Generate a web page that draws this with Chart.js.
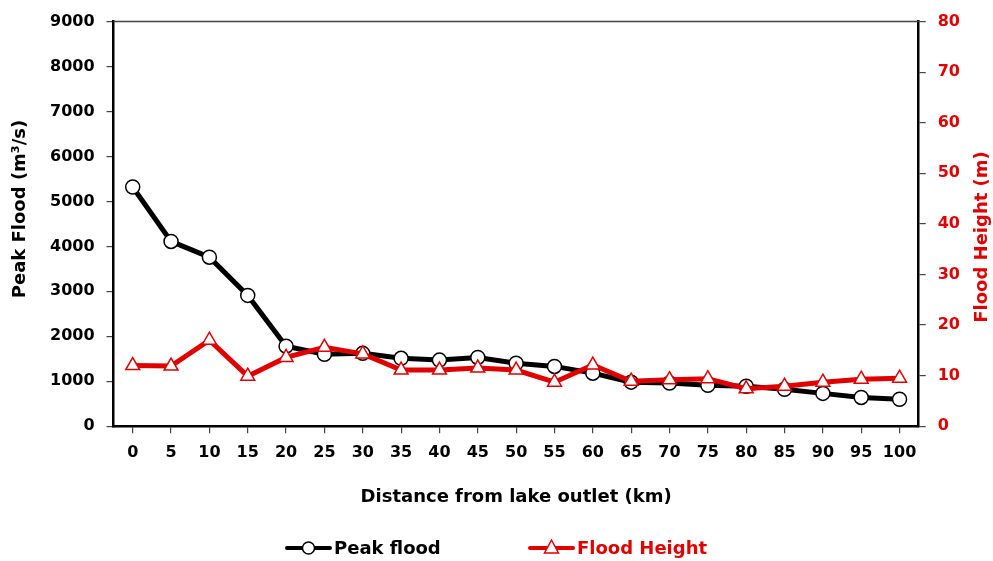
<!DOCTYPE html>
<html>
<head>
<meta charset="utf-8">
<script src="https://cdn.jsdelivr.net/npm/chart.js@4"></script>
<style>
  html, body { margin: 0; padding: 0; background: #fff; }
  #wrap { width: 993px; height: 561px; }
</style>
</head>
<body>
<div id="wrap"><canvas id="floodChart"></canvas></div>
<script>
const distances = ['0', '5', '10', '15', '20', '25', '30', '35', '40', '45', '50',
  '55', '60', '65', '70', '75', '80', '85', '90', '95', '100'];
const peakFlood = [5320, 4110, 3760, 2910, 1780, 1600, 1620, 1510, 1470, 1530, 1400,
  1330, 1180, 980, 960, 910, 890, 820, 730, 640, 600];
const floodHeight = [12.0, 11.9, 17.0, 9.9, 13.6, 15.6, 14.3, 11.1, 11.1, 11.5, 11.1,
  8.7, 12.1, 8.9, 9.2, 9.4, 7.4, 7.9, 8.7, 9.3, 9.5];

const red = '#e00000';
const fontFam = '"DejaVu Sans", sans-serif';

// titulos de ejes verticales, leyenda y borde superior dibujados a mano
const extras = {
  id: 'extras',
  afterDraw(chart) {
    const ctx = chart.ctx;
    const area = chart.chartArea;
    ctx.save();

    // borde superior del area del grafico
    ctx.strokeStyle = '#444';
    ctx.lineWidth = 1.5;
    ctx.beginPath();
    ctx.moveTo(area.left, area.top);
    ctx.lineTo(area.right, area.top);
    ctx.stroke();

    // titulos verticales (ambos leidos de abajo hacia arriba)
    ctx.font = 'bold 18px ' + fontFam;
    ctx.textAlign = 'center';
    ctx.textBaseline = 'middle';
    [[20, 209, '#000', 'Peak Flood (m³/s)'], [982, 237, red, 'Flood Height (m)']].forEach(t => {
      ctx.save();
      ctx.translate(t[0], t[1]);
      ctx.rotate(-Math.PI / 2);
      ctx.fillStyle = t[2];
      ctx.fillText(t[3], 0, 0);
      ctx.restore();
    });

    // leyenda: linea + marcador + texto
    const y = 548;
    const items = [
      { x: 287, color: '#000', text: 'Peak flood', marker: 'circle' },
      { x: 530, color: red, text: 'Flood Height', marker: 'triangle' }
    ];
    ctx.textAlign = 'left';
    items.forEach(it => {
      ctx.strokeStyle = it.color;
      ctx.lineWidth = 4;
      ctx.lineCap = 'round';
      ctx.beginPath();
      ctx.moveTo(it.x, y);
      ctx.lineTo(it.x + 43, y);
      ctx.stroke();
      const cx = it.x + 21.5;
      ctx.fillStyle = '#fff';
      ctx.lineWidth = 1.5;
      ctx.beginPath();
      if (it.marker === 'circle') {
        ctx.arc(cx, y, 6, 0, Math.PI * 2);
      } else {
        ctx.moveTo(cx, y - 8);
        ctx.lineTo(cx + 7, y + 5);
        ctx.lineTo(cx - 7, y + 5);
        ctx.closePath();
      }
      ctx.fill();
      ctx.stroke();
      ctx.fillStyle = it.color;
      ctx.font = 'bold 18px ' + fontFam;
      ctx.fillText(it.text, it.x + 47, y + 1);
    });
    ctx.restore();
  }
};

const ctx = document.getElementById('floodChart').getContext('2d');
new Chart(ctx, {
  type: 'line',
  data: {
    labels: distances,
    datasets: [{
      label: 'Peak flood',
      data: peakFlood,
      yAxisID: 'y',
      borderColor: '#000',
      borderWidth: 5,
      pointStyle: 'circle',
      pointRadius: 7,
      pointBackgroundColor: '#fff',
      pointBorderColor: '#000',
      pointBorderWidth: 1.5,
      order: 1
    }, {
      label: 'Flood Height',
      data: floodHeight,
      yAxisID: 'y1',
      borderColor: red,
      borderWidth: 5,
      pointStyle: 'triangle',
      pointRadius: 8,
      pointBackgroundColor: '#fff',
      pointBorderColor: red,
      pointBorderWidth: 1.5,
      order: 0
    }]
  },
  options: {
    responsive: true,
    maintainAspectRatio: false,
    animation: false,
    layout: { padding: { left: 38, right: 21, top: 3, bottom: 49 } },
    plugins: {
      legend: { display: false },
      tooltip: { enabled: false }
    },
    scales: {
      x: {
        offset: true,
        grid: { offset: false, drawOnChartArea: false, color: '#444', tickLength: 7, lineWidth: 1.2 },
        border: { color: '#000', width: 2.5 },
        ticks: { color: '#000', font: { family: fontFam, size: 16, weight: 'bold' }, maxRotation: 0, autoSkip: false, padding: 10 },
        title: { display: true, text: 'Distance from lake outlet (km)', color: '#000', font: { family: fontFam, size: 18, weight: 'bold' }, padding: { top: 14 } }
      },
      y: {
        position: 'left',
        min: 0,
        max: 9000,
        grid: { drawOnChartArea: false, color: '#444', tickLength: 7, lineWidth: 1.2 },
        border: { color: '#000', width: 2.5 },
        ticks: { stepSize: 1000, color: '#000', font: { family: fontFam, size: 16, weight: 'bold' }, padding: 12, callback: v => String(v) }
      },
      y1: {
        position: 'right',
        min: 0,
        max: 80,
        grid: { drawOnChartArea: false, color: '#444', tickLength: 7, lineWidth: 1.2 },
        border: { color: '#000', width: 2.5 },
        ticks: { stepSize: 10, color: red, font: { family: fontFam, size: 16, weight: 'bold' }, padding: 12, callback: v => String(v) }
      }
    }
  },
  plugins: [extras]
});
</script>
</body>
</html>
